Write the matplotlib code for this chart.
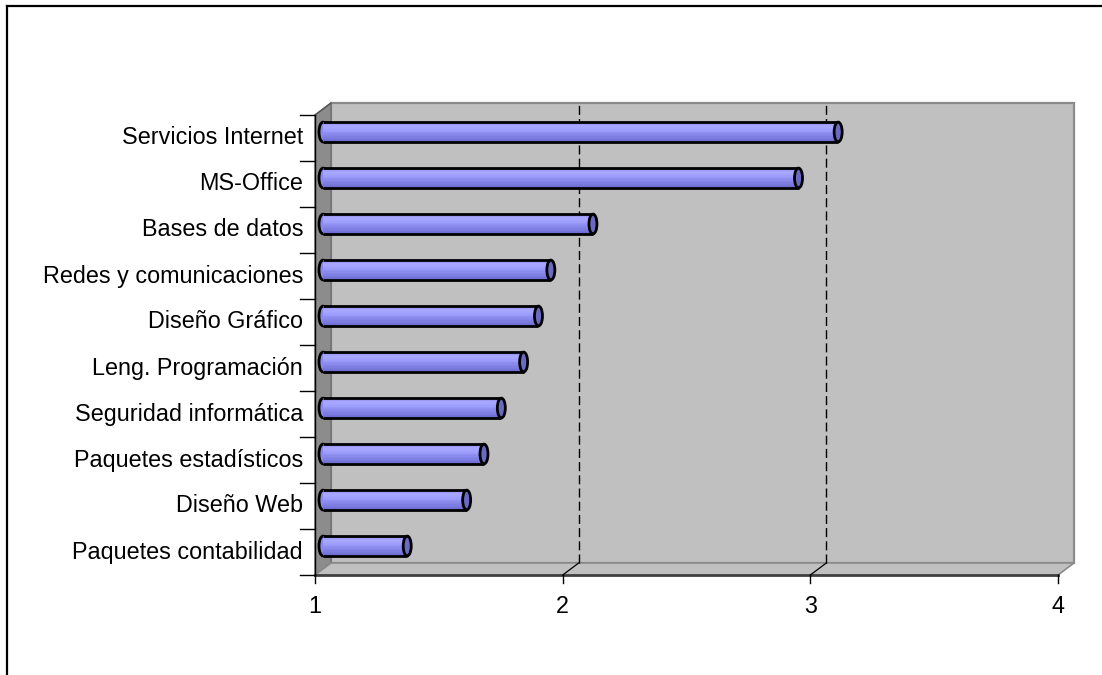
import numpy as np
import matplotlib.pyplot as plt
from matplotlib.patches import Polygon, Ellipse, Rectangle
from matplotlib.lines import Line2D
from matplotlib.colors import LinearSegmentedColormap
from matplotlib.transforms import Affine2D, IdentityTransform

plt.rcParams['font.family'] = ['Liberation Sans', 'DejaVu Sans']

# Datos (de abajo hacia arriba)
categorias = ['Paquetes contabilidad', 'Diseño Web', 'Paquetes estadísticos',
              'Seguridad informática', 'Leng. Programación', 'Diseño Gráfico',
              'Redes y comunicaciones', 'Bases de datos', 'MS-Office',
              'Servicios Internet']
valores = [1.34, 1.58, 1.65, 1.72, 1.81, 1.87, 1.92, 2.09, 2.92, 3.08]
xticks = [1, 2, 3, 4]
rejilla = [2, 3]

W, H = 1102, 675
fig = plt.figure(figsize=(W / 100, H / 100), dpi=100)
ax = fig.add_axes([315 / W, 1 - 575 / H, 743 / W, 460 / H])
ax.set_xlim(xticks[0], xticks[-1])
y0, y1 = -0.5, len(categorias) - 0.5
ax.set_ylim(y0, y1)
ax.axis('off')

# profundidad del efecto 3D en pixeles
DX, DY = 16, 12
fondo = ax.transData + Affine2D().translate(DX, DY)
medio = ax.transData + Affine2D().translate(DX / 2, DY / 2)
ident = IdentityTransform()


def px(x, y, d=0.0):
    p = ax.transData.transform((x, y))
    return (p[0] + DX * d, p[1] + DY * d)


xa, xb = xticks[0], xticks[-1]

# pared del fondo
ax.add_patch(Rectangle((xa, y0), xb - xa, y1 - y0, transform=fondo,
                       fc='#c0c0c0', ec='#8a8a8a', lw=1.6, clip_on=False, zorder=1))
# pared izquierda
ax.add_patch(Polygon([px(xa, y0), px(xa, y1), px(xa, y1, 1), px(xa, y0, 1)],
                     transform=ident, fc='#8c8c8c', ec='#6e6e6e', lw=1,
                     clip_on=False, zorder=1))
# piso
ax.add_patch(Polygon([px(xa, y0), px(xb, y0), px(xb, y0, 1), px(xa, y0, 1)],
                     transform=ident, fc='#c0c0c0', ec='#8a8a8a', lw=1.2,
                     clip_on=False, zorder=1))
ax.add_line(Line2D(*zip(px(xa, y0), px(xb, y0)), transform=ident,
                   color='#404040', lw=2, zorder=2, clip_on=False))
ax.add_line(Line2D(*zip(px(xa, y0), px(xa, y1)), transform=ident,
                   color='black', lw=1, zorder=2, clip_on=False))
ax.add_line(Line2D(*zip(px(xa, y1), px(xa, y1, 1)), transform=ident,
                   color='#555555', lw=1, zorder=2, clip_on=False))

# lineas de division
for g in rejilla:
    ax.plot([g, g], [y0, y1], transform=fondo, color='black', lw=1,
            ls=(0, (6.5, 3)), zorder=2, clip_on=False)
    ax.add_line(Line2D(*zip(px(g, y0), px(g, y0, 1)), transform=ident,
                       color='black', lw=0.9, zorder=2, clip_on=False))

# marcas y etiquetas del eje x
for t in xticks:
    bx, by = px(t, y0)
    ax.add_line(Line2D([bx, bx], [by, by - 8], transform=ident,
                       color='black', lw=1, clip_on=False, zorder=2))
    ax.text(t, y0, str(t), transform=ax.transData + Affine2D().translate(0, -20),
            ha='center', va='top', fontsize=16.8, color='black')

# marcas y etiquetas de categorias
for k in range(len(categorias) + 1):
    bx, by = px(xa, k - 0.5)
    ax.add_line(Line2D([bx - 15, bx], [by, by], transform=ident,
                       color='black', lw=1, clip_on=False, zorder=2))
for i, c in enumerate(categorias):
    ax.text(xa, i, c, transform=ax.transData + Affine2D().translate(-12, 0),
            ha='right', va='center', fontsize=16.8, color='black')

# cilindros
h = 0.43
wcap = 8 / (ax.transData.transform((2, 0))[0] - ax.transData.transform((1, 0))[0])
cmap = LinearSegmentedColormap.from_list(
    'cil', [(0, '#6c6cd0'), (0.35, '#8686ea'), (0.65, '#a2a2ff'),
            (0.8, '#a8a8ff'), (1, '#8e8eec')])
nstrip = 14
for i, v in enumerate(valores):
    ax.add_patch(Ellipse((xa, i), wcap, h, transform=medio, fc='#8a8aec',
                         ec='black', lw=2, zorder=3, clip_on=False))
    for k in range(nstrip):
        yy = i - h / 2 + k * h / nstrip
        ax.add_patch(Rectangle((xa, yy), v - xa, h / nstrip * 1.05,
                               transform=medio, fc=cmap((k + 0.5) / nstrip),
                               ec='none', lw=0, zorder=4, clip_on=False))
    ax.plot([xa, v], [i + h / 2, i + h / 2], transform=medio, color='black',
            lw=2, zorder=5, solid_capstyle='butt', clip_on=False)
    ax.plot([xa, v], [i - h / 2, i - h / 2], transform=medio, color='black',
            lw=2, zorder=5, solid_capstyle='butt', clip_on=False)
    ax.add_patch(Ellipse((v, i), wcap, h, transform=medio, fc='#6a6ac4',
                         ec='black', lw=2, zorder=6, clip_on=False))

# marco exterior
fig.add_artist(Line2D([7, W], [H - 6, H - 6], transform=ident, color='black', lw=1.6))
fig.add_artist(Line2D([7, 7], [0, H - 6], transform=ident, color='black', lw=1.6))

fig.savefig('out.png', dpi=100)
